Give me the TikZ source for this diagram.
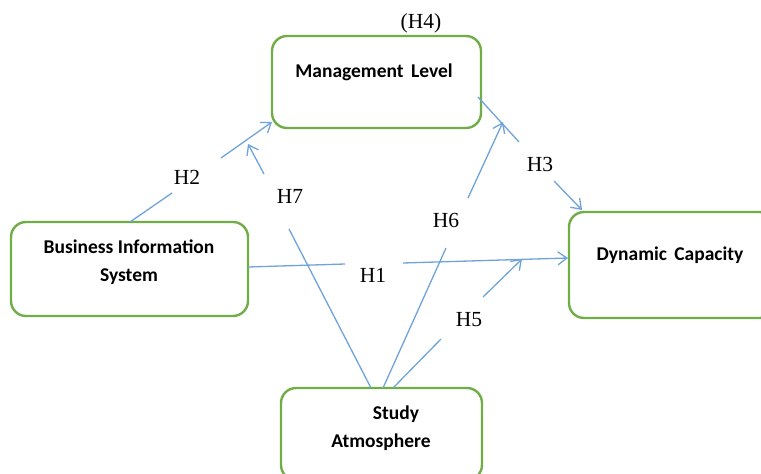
\documentclass[tikz,border=0pt]{standalone}
\usepackage{fontspec}
\setmainfont{Liberation Serif}
\newfontfamily\boxfont{Carlito}
\usetikzlibrary{arrows.meta}
\definecolor{boxgreen}{HTML}{70AD47}
\definecolor{linkblue}{HTML}{6FA3DA}
\begin{document}
\begin{tikzpicture}[x=1pt,y=-1pt,
  box/.style={draw=boxgreen,line width=2.4pt,rounded corners=15pt,inner sep=0pt},
  boxtext/.style={font=\boxfont\bfseries\fontsize{19.5}{28}\selectfont,inner sep=0pt,anchor=base},
  hlabel/.style={font=\fontsize{21.5}{24}\selectfont,inner sep=0pt,anchor=base},
  link/.style={draw=linkblue,line width=1.3pt},
  arrowlink/.style={link,-{Straight Barb[length=9pt,width=13pt]}}]
\clip (0,0) rectangle (761,474);
% boxes
\node[box,minimum width=209pt,minimum height=92pt] (ml) at (376.5,82) {};
\node[box,minimum width=237pt,minimum height=94pt] (bis) at (129.5,269) {};
\node[box,minimum width=206pt,minimum height=106pt] (dc) at (672,265) {};
\node[box,minimum width=201pt,minimum height=92pt] (sa) at (381.5,434) {};
% box texts
\node[boxtext] (mlt) at (374,77) {Management\hspace{0.15em} Level};
\node[boxtext] (bis1) at (129,253) {Business Information};
\node[boxtext] (bis2) at (129,281) {System};
\node[boxtext] (dct) at (670,260) {Dynamic\hspace{0.15em} Capacity};
\node[boxtext] (sa1) at (396,419) {Study};
\node[boxtext] (sa2) at (381,447) {Atmosphere};
% hypothesis labels
\node[hlabel] (h4) at (421,28) {(H4)};
\node[hlabel] (h2) at (187,184) {H2};
\node[hlabel] (h7) at (290,203) {H7};
\node[hlabel] (h6) at (446,227) {H6};
\node[hlabel] (h3) at (540,171) {H3};
\node[hlabel] (h1) at (373,282) {H1};
\node[hlabel] (h5) at (469,326) {H5};
% connector end points
\coordinate (h2a) at (130,222); \coordinate (h2b) at (172,193);
\coordinate (h2c) at (221,158); \coordinate (h2d) at (272,122);
\coordinate (h7a) at (371,388); \coordinate (h7b) at (289,229);
\coordinate (h7c) at (264,174); \coordinate (h7d) at (248,144);
\coordinate (h6a) at (383,388); \coordinate (h6b) at (446,248);
\coordinate (h6c) at (468,198); \coordinate (h6d) at (503,122);
\coordinate (h5a) at (393,388); \coordinate (h5b) at (441,339);
\coordinate (h5c) at (483,297); \coordinate (h5d) at (522,259);
\coordinate (h1a) at (248,267); \coordinate (h1b) at (345,264);
\coordinate (h1c) at (403,263); \coordinate (h1d) at (568,258);
\coordinate (h3a) at (478,97);  \coordinate (h3b) at (519,142);
\coordinate (h3c) at (554,181); \coordinate (h3d) at (582,210);
% connectors
\draw[link] (h2a) -- (h2b); \draw[arrowlink] (h2c) -- (h2d);
\draw[link] (h7a) -- (h7b); \draw[arrowlink] (h7c) -- (h7d);
\draw[link] (h6a) -- (h6b); \draw[arrowlink] (h6c) -- (h6d);
\draw[link] (h5a) -- (h5b); \draw[arrowlink] (h5c) -- (h5d);
\draw[link] (h1a) -- (h1b); \draw[arrowlink] (h1c) -- (h1d);
\draw[link] (h3a) -- (h3b); \draw[arrowlink] (h3c) -- (h3d);
\end{tikzpicture}
\end{document}
